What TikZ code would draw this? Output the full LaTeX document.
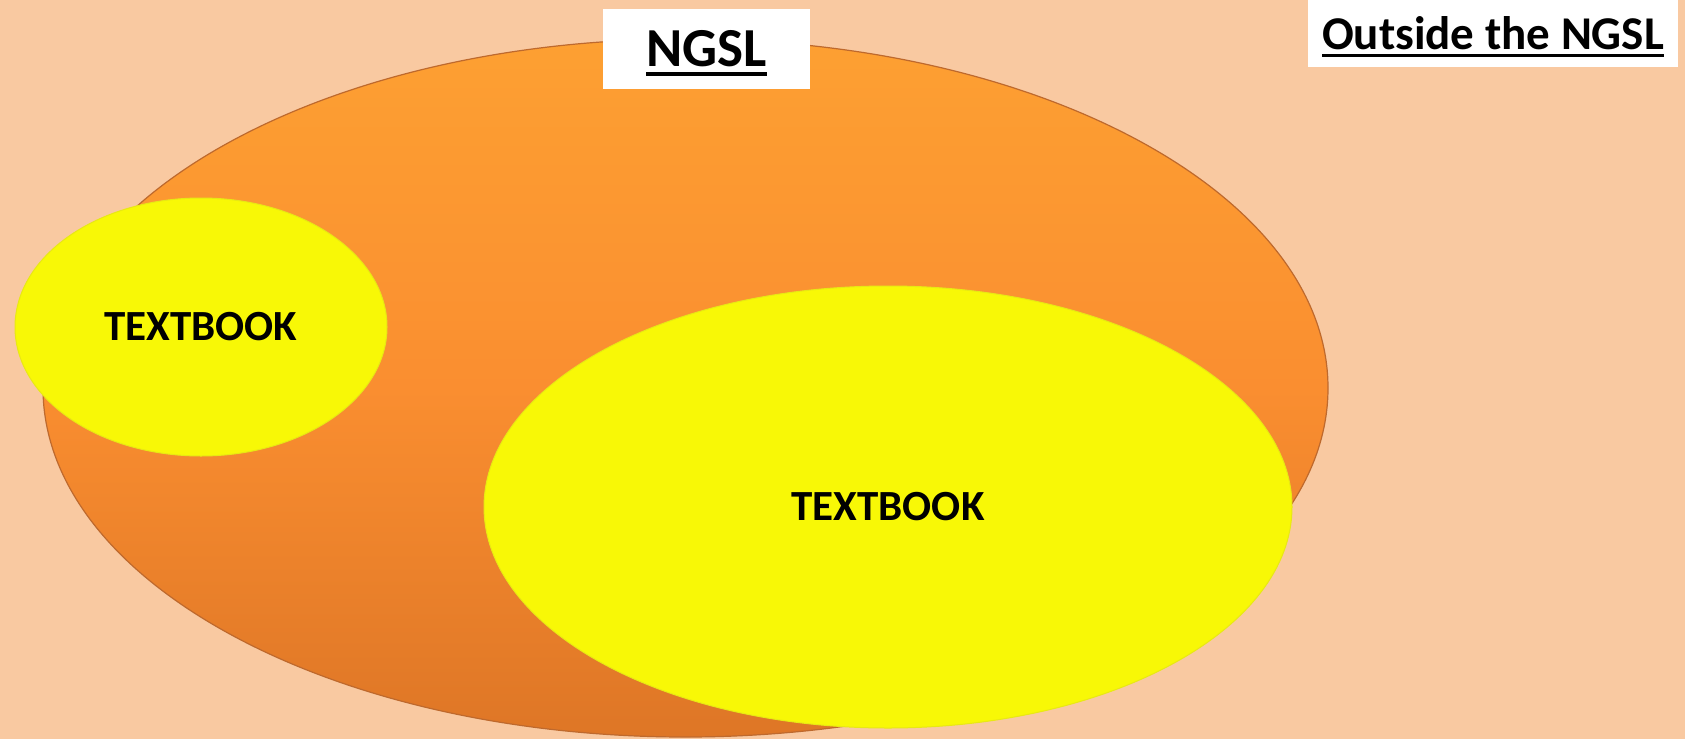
\documentclass[tikz,border=0pt]{standalone}
\usepackage{fontspec}
\setmainfont{Carlito}
\usetikzlibrary{shapes.geometric}
\definecolor{bgpeach}{RGB}{249,201,161}
\definecolor{orTop}{RGB}{253,160,50}
\definecolor{orMid}{RGB}{250,142,48}
\definecolor{orBot}{RGB}{222,118,38}
\definecolor{orEdge}{RGB}{190,105,45}
\definecolor{yel}{RGB}{248,248,6}
\definecolor{yelEdge}{RGB}{232,232,20}
\newcommand\ulbold[1]{\leavevmode\setbox0\hbox{#1}\rlap{\smash{\raisebox{-0.16em}{\rule{\wd0}{0.065em}}}}\box0}
\tikzset{
  bigset/.style={ellipse, inner sep=0pt, top color=orTop, bottom color=orBot, middle color=orMid, draw=orEdge, line width=1.2pt},
  yelset/.style={ellipse, inner sep=0pt, fill=yel, draw=yelEdge, line width=1pt, font=\fontsize{43}{50}\selectfont\bfseries},
  labelbox/.style={fill=white, inner sep=0pt}
}
\begin{document}
\begin{tikzpicture}[x=1pt,y=-1pt]
\useasboundingbox[fill=bgpeach] (0,0) rectangle (1685,739);
\node[bigset, minimum width=1285pt, minimum height=698pt] (ngsl) at (685.5,388) {};
\node[yelset, minimum width=372pt, minimum height=258pt] (tb1) at (201,327) {TEXTBOOK};
\node[yelset, minimum width=808pt, minimum height=442pt] (tb2) at (888,507) {TEXTBOOK};
\node[labelbox, minimum width=207pt, minimum height=80pt] (ngsllabel) at (706.5,49) {\fontsize{55}{60}\selectfont\bfseries\ulbold{NGSL}};
\node[labelbox, minimum width=370pt, minimum height=67pt] (outlabel) at (1493,33.5) {\fontsize{47}{55}\selectfont\bfseries\ulbold{Outside the NGSL}};
\end{tikzpicture}
\end{document}
